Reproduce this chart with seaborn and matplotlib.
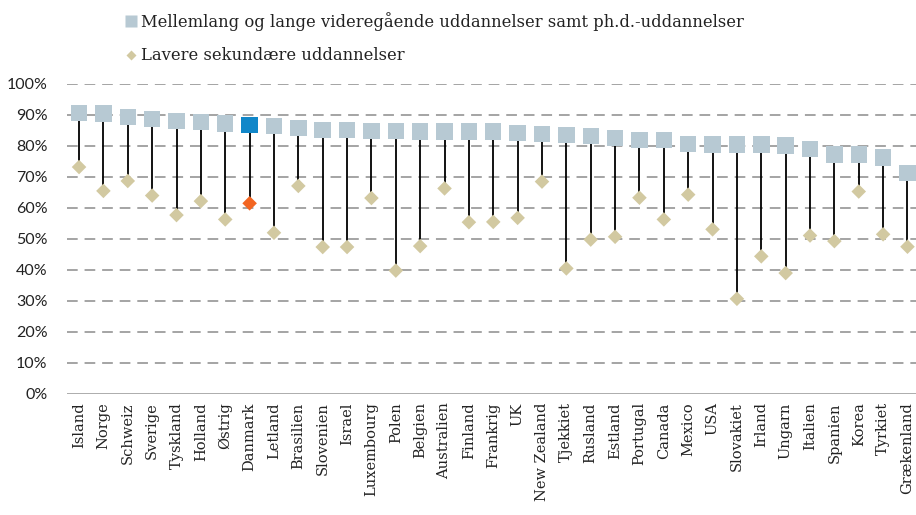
import pandas as pd
import numpy as np
import matplotlib.pyplot as plt
import seaborn as sns
from matplotlib.lines import Line2D
from matplotlib.ticker import PercentFormatter

# data (shares, 0-1)
lande = ['Island', 'Norge', 'Schweiz', 'Sverige', 'Tyskland', 'Holland', 'Østrig',
         'Danmark', 'Letland', 'Brasilien', 'Slovenien', 'Israel', 'Luxembourg',
         'Polen', 'Belgien', 'Australien', 'Finland', 'Frankrig', 'UK', 'New Zealand',
         'Tjekkiet', 'Rusland', 'Estland', 'Portugal', 'Canada', 'Mexico', 'USA',
         'Slovakiet', 'Irland', 'Ungarn', 'Italien', 'Spanien', 'Korea', 'Tyrkiet',
         'Grækenland']
hoej = [90.6, 90.4, 89.4, 88.7, 88.1, 87.8, 87.3, 86.7, 86.5, 85.8, 85.2, 85.2, 84.9,
        84.9, 84.6, 84.6, 84.6, 84.6, 84.1, 83.8, 83.6, 83.3, 82.5, 82.0, 82.0, 80.7,
        80.4, 80.4, 80.4, 80.1, 79.0, 77.3, 77.3, 76.3, 71.2]
lav = [73.2, 65.5, 68.7, 64.0, 57.7, 62.2, 56.3, 61.5, 52.0, 67.1, 47.4, 47.4, 63.2,
       39.8, 47.7, 66.3, 55.4, 55.5, 56.8, 68.5, 40.5, 49.8, 50.7, 63.3, 56.3, 64.3,
       53.1, 30.7, 44.4, 39.0, 51.1, 49.3, 65.3, 51.5, 47.5]

lbl_hoej = 'Mellemlang og lange videregående uddannelser samt ph.d.-uddannelser'
lbl_lav = 'Lavere sekundære uddannelser'

df = pd.DataFrame({'land': lande, 'hoej': np.array(hoej) / 100, 'lav': np.array(lav) / 100})
df['dk'] = np.where(df['land'] == 'Danmark', 'ja', 'nej')

sns.set_style('white')
fig = plt.figure(figsize=(9.16, 5.15), dpi=100)
ax = fig.add_axes([0.073, 0.235, 0.931, 0.602])

# grid
for v in np.arange(0.1, 1.01, 0.1):
    ax.axhline(v, color='#8c8c8c', lw=1.1, ls=(0, (7, 4.5)), zorder=0)
ax.axhline(0, color='#a6a6a6', lw=1.3, zorder=1)

# stems
ax.vlines(df['land'], df['lav'], df['hoej'], color='black', lw=1.3, zorder=2)

sns.scatterplot(data=df, x='land', y='hoej', hue='dk', marker='s', s=140,
                palette={'nej': '#b7c9d3', 'ja': '#1187c9'}, linewidth=0,
                legend=False, ax=ax, zorder=3)
sns.scatterplot(data=df, x='land', y='lav', hue='dk', marker='D', s=55,
                palette={'nej': '#d2c9a1', 'ja': '#f26522'}, linewidth=0,
                legend=False, ax=ax, zorder=3)

ax.set_xlim(-0.5, len(lande) - 0.5)
ax.set_ylim(0, 1.0)
ax.set_yticks(np.arange(0, 1.01, 0.1))
ax.yaxis.set_major_formatter(PercentFormatter(1.0, decimals=0))
ax.set_xlabel('')
ax.set_ylabel('')
for s in ax.spines.values():
    s.set_visible(False)
ax.tick_params(axis='both', length=0)
ax.tick_params(axis='y', pad=14, labelcolor='#222222')
ax.tick_params(axis='x', pad=6, labelcolor='#222222')
plt.setp(ax.get_xticklabels(), rotation=90, family='DejaVu Serif', fontsize=10.5)
plt.setp(ax.get_yticklabels(), family='Lato', fontsize=11.5)

handles = [Line2D([], [], ls='', marker='s', ms=8, mfc='#b7c9d3', mec='none'),
           Line2D([], [], ls='', marker='D', ms=5, mfc='#d2c9a1', mec='none')]
fig.legend(handles, [lbl_hoej, lbl_lav], loc='upper left', bbox_to_anchor=(0.122, 1.005),
           frameon=False, handlelength=0.6, handletextpad=0.3, labelspacing=1.0,
           prop={'family': 'DejaVu Serif', 'size': 11.8}, labelcolor='#222222')

fig.savefig('out.png', dpi=100)
